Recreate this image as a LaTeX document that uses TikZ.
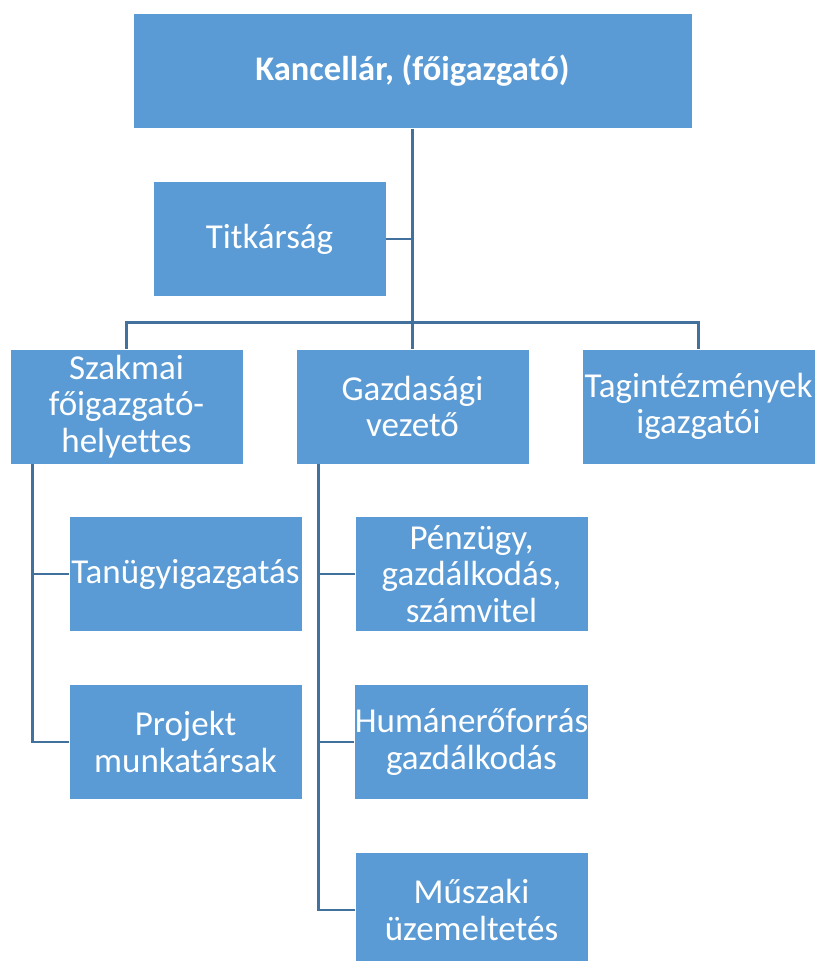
\documentclass[tikz,border=0pt]{standalone}
\usepackage{fontspec}
\setmainfont{Carlito}[Ligatures=NoCommon]
\definecolor{boxblue}{HTML}{5B9BD5}
\definecolor{linec}{HTML}{41719C}
\begin{document}
\begin{tikzpicture}[x=1pt,y=-1pt,
  box/.style={draw=white, line width=0.8pt, fill=boxblue, text=white,
    minimum width=233pt, minimum height=115pt, align=center, inner sep=0pt,
    font=\fontsize{35}{36.5}\selectfont},
  conn/.style={draw=linec, line width=2.6pt}]
\useasboundingbox (0,0) rectangle (815,961);
\node[box, minimum width=559pt, font=\fontsize{34.5}{36.5}\selectfont\bfseries] (kan) at (412.5,71) {Kancellár, (főigazgató)};
\node[box] (tit) at (269.5,239) {Titkárság};
\node[box] (sza) at (126.5,406.5) {Szakmai\\főigazgató-\\helyettes};
\node[box] (gaz) at (412.5,406.5) {Gazdasági\\vezető};
\node[box] (tag) at (698.5,406.5) {Tagintézmények\\igazgatói};
\node[box] (tan) at (185.5,574) {Tanügyigazgatás};
\node[box] (pro) at (185.5,742) {Projekt\\munkatársak};
\node[box] (pen) at (471.5,574) {Pénzügy,\\gazdálkodás,\\számvitel};
\node[box] (hum) at (471.5,742) {Humánerőforrás\\gazdálkodás};
\node[box] (mus) at (471.5,910) {Műszaki\\üzemeltetés};
\coordinate (hub) at (412.5,322.5);
\coordinate (titj) at (412.5,239);
\coordinate (lft) at (126.5,322.5);
\coordinate (rgt) at (698.5,322.5);
\coordinate (sl) at (32.5,464);
\coordinate (ml) at (318.5,464);
\draw[conn] (kan.south) -- (hub);
\draw[conn] (tit.east) -- (titj);
\draw[conn] (sza.north) -- (lft) -- (rgt) -- (tag.north);
\draw[conn] (hub) -- (gaz.north);
\draw[conn] (sl) |- (pro.west);
\draw[conn] (sl |- tan.west) -- (tan.west);
\draw[conn] (ml) |- (mus.west);
\draw[conn] (ml |- pen.west) -- (pen.west);
\draw[conn] (ml |- hum.west) -- (hum.west);
\end{tikzpicture}
\end{document}
